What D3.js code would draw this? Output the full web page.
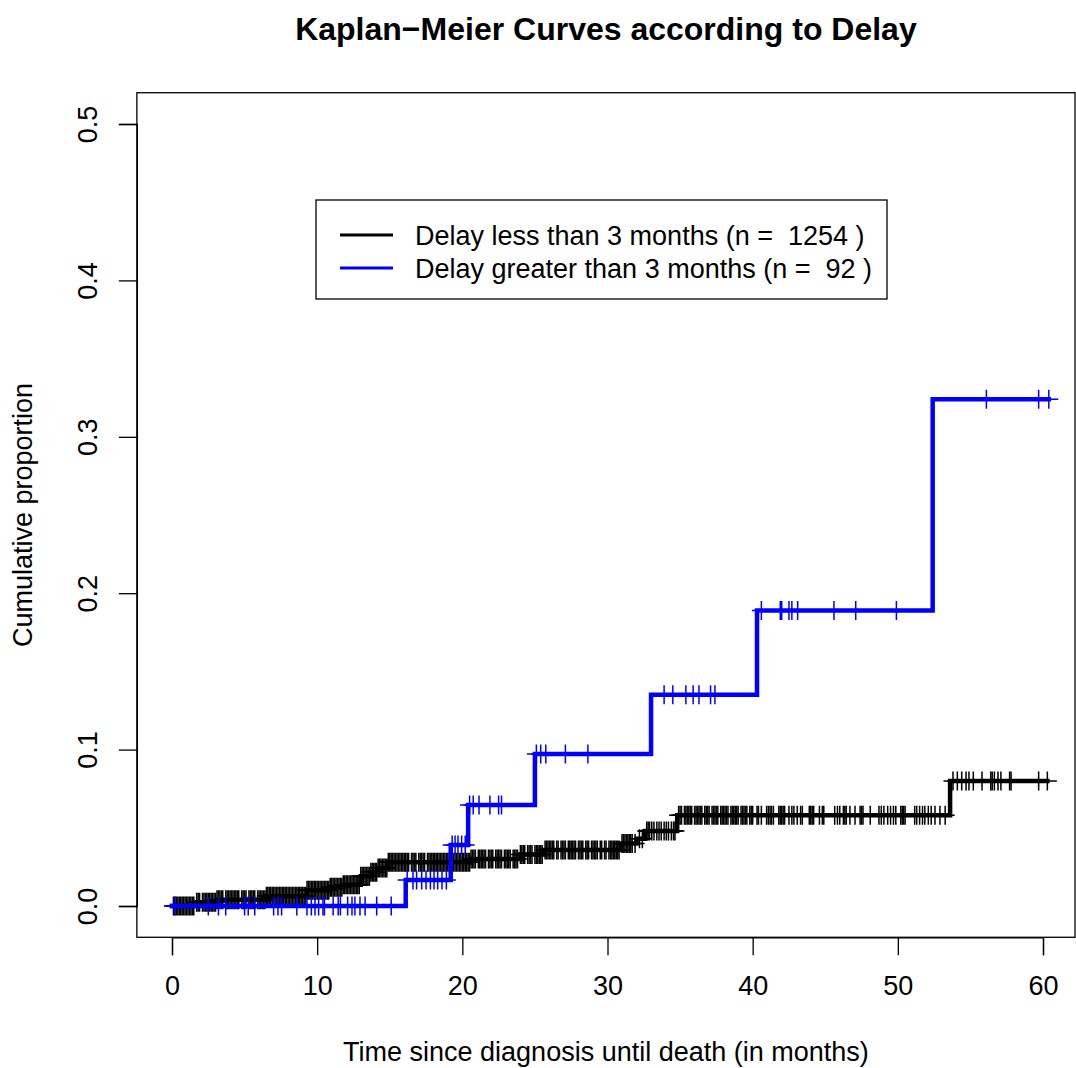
<!DOCTYPE html>
<html>
<head>
<meta charset="utf-8">
<script src="https://cdn.jsdelivr.net/npm/d3@7"></script>
<style>
  html, body { margin: 0; padding: 0; background: #fff; }
  svg { display: block; }
  text { font-family: "Liberation Sans", Arial, sans-serif; fill: #000; white-space: pre; }
</style>
</head>
<body>
<svg id="chart" width="1076" height="1068"></svg>
<script>
// ---- data -------------------------------------------------------------
const groups = ["Delay less than 3 months (n =  1254 )", "Delay greater than 3 months (n =  92 )"];
const groupColors = ["#000000", "#0000ff"];

// Event times (months) and cumulative proportion after each event
const shortDelayTimes = [1.7, 3.1, 6.5, 9.3, 10.9, 11.8, 13.0, 13.7, 14.2, 14.9, 20.6, 24.0, 25.6, 30.9, 32.0, 32.6, 34.8, 53.6];
const shortDelayCum   = [0.0024, 0.004, 0.0062, 0.0100, 0.012, 0.0136, 0.019, 0.0215, 0.0243, 0.028, 0.030, 0.033, 0.0358, 0.040, 0.043, 0.048, 0.058, 0.080];
const shortDelayEnd = 60.3;
const shortDelayCensored = (
  "0.1 0.2 0.3 0.4 0.5 0.6 0.7 0.8 0.9 1.0 1.1 1.2 1.3 1.4 1.5 " +
  "1.7 1.8 1.9 2.1 2.2 2.3 2.4 2.5 2.6 2.7 2.8 2.9 3.0 " +
  "3.1 3.2 3.3 3.4 3.5 3.7 3.8 3.9 4.0 4.1 4.2 4.3 4.4 4.5 4.6 4.8 4.9 5.0 5.1 5.3 5.4 5.5 5.6 5.7 5.9 6.0 6.1 6.2 6.3 6.4 6.5 " +
  "6.6 6.7 6.8 6.9 7.0 7.1 7.2 7.3 7.4 7.5 7.6 7.7 7.8 7.9 8.0 8.1 8.2 8.3 8.4 8.5 8.6 8.7 8.8 8.9 9.0 9.1 9.2 9.3 9.4 9.5 " +
  "9.6 9.7 9.8 9.9 10.0 10.1 10.2 10.3 10.4 10.5 10.6 10.7 10.8 10.9 11.0 11.1 11.2 11.3 11.4 11.5 11.6 11.7 11.8 11.9 12.0 " +
  "12.1 12.2 12.3 12.4 12.5 12.6 12.7 12.8 12.9 13.0 13.1 13.2 13.3 13.4 13.5 13.6 13.7 13.8 13.9 14.0 14.1 14.2 14.3 14.4 14.5 " +
  "14.6 14.7 14.8 14.9 15.0 15.1 15.2 15.3 15.4 15.5 15.6 15.7 15.8 15.9 16.0 16.1 16.2 16.3 16.5 16.6 16.7 16.8 17.0 17.1 17.2 " +
  "17.3 17.4 17.6 17.7 17.8 17.9 18.0 18.1 18.2 18.3 18.4 18.5 18.6 18.7 18.8 18.9 19.0 19.1 19.2 19.3 19.4 19.5 19.6 19.7 19.8 " +
  "19.9 20.0 20.1 20.2 20.3 20.4 20.5 20.6 " +
  "20.7 20.8 20.9 21.1 21.2 21.3 21.4 21.5 21.6 21.8 21.9 22.0 22.1 22.3 22.4 22.5 22.6 22.7 22.9 23.0 23.1 23.2 23.3 23.5 23.6 " +
  "23.7 23.8 24.0 24.1 24.2 24.3 24.5 24.6 24.7 24.8 25.0 " +
  "25.1 25.2 25.3 25.4 25.5 25.7 25.8 25.9 26.0 26.1 26.2 26.3 26.5 26.6 26.8 26.9 27.0 27.1 27.3 27.4 27.5 27.6 27.7 27.8 28.0 " +
  "28.1 28.2 28.3 28.5 28.6 28.7 28.9 29.0 29.1 29.2 29.3 29.5 29.6 29.8 29.9 30.1 30.2 30.3 30.4 30.5 30.6 30.7 30.8 " +
  "31.0 31.1 31.2 31.3 31.4 31.5 31.6 31.7 31.9 32.2 32.4 " +
  "32.7 32.8 32.9 33.05 33.2 33.4 33.55 33.7 33.9 34.05 34.2 34.4 34.55 34.65 " +
  "34.9 35.0 35.1 35.3 35.4 35.5 35.6 35.7 35.8 36.0 36.1 36.2 36.3 36.4 36.5 36.7 36.8 36.9 37.0 37.2 37.3 37.4 37.5 37.6 37.8 " +
  "37.9 38.0 38.1 38.2 38.3 38.5 38.6 38.7 38.8 38.9 39.0 39.2 39.3 39.4 39.5 39.6 39.8 39.9 40.0 40.3 40.4 40.6 " +
  "40.96 41.08 41.2 41.3 41.43 41.8 41.9 42.0 42.1 42.2 42.5 42.7 42.84 43.07 43.3 43.42 43.9 44.0 44.1 44.2 44.6 44.8 44.9 " +
  "45.65 45.84 46.0 46.25 46.35 46.45 46.7 47.05 47.4 47.5 47.6 48.1 48.7 48.86 49.04 49.3 49.5 49.7 49.86 50.2 50.3 50.4 50.5 " +
  "51.16 51.3 51.5 51.7 51.86 52.1 52.3 52.56 52.9 53.26 " +
  "53.8 54.1 54.4 54.7 54.9 55.2 55.8 56.4 56.5 56.65 56.9 57.1 57.7 57.8 59.7 60.3"
).split(" ").map(Number);

const longDelayTimes = [16.1, 19.2, 20.4, 25.0, 33.0, 40.3, 52.4];
const longDelayCum   = [0.0166, 0.039, 0.0646, 0.0972, 0.135, 0.189, 0.324];
const longDelayEnd = 60.4;
const longDelayCensored = [
  0.2, 2.5, 3.2, 3.7, 5.0, 5.25, 5.7, 7.0, 7.3, 7.55, 8.6, 9.3, 9.6, 9.85, 10.1, 10.4, 10.5, 11.1, 11.45, 11.6,
  12.1, 12.4, 12.6, 12.95, 13.3, 14.1, 15.1,
  16.2, 16.6, 16.85, 17.2, 17.5, 17.8, 18.05, 18.3, 18.6, 18.9,
  19.3, 19.5, 19.7, 19.95, 20.2,
  20.5, 20.75, 21.15, 21.9, 22.5, 22.7,
  25.1, 25.4, 25.75, 27.1, 28.65,
  33.9, 34.5, 35.4, 35.9, 36.3, 37.1, 37.4,
  40.6, 41.9, 42.0, 42.5, 42.7, 43.1, 45.6, 47.1, 49.9,
  56.1, 59.7, 60.4
];

const xTicks = [0, 10, 20, 30, 40, 50, 60];
const yTicks = [0, 0.1, 0.2, 0.3, 0.4, 0.5];

// ---- layout -----------------------------------------------------------
const W = 1076, H = 1068;
const FS = 27;              // base text size
const svg = d3.select("#chart");

const x = d3.scaleLinear().domain([0, 60]).range([172, 1043]);
const y = d3.scaleLinear().domain([0, 0.5]).range([906, 124]);

const box = { left: x(-2.42), right: W - 1, top: y(0.52), bottom: y(-0.02) };

// plot frame
svg.append("rect")
  .attr("x", box.left).attr("y", box.top)
  .attr("width", box.right - box.left).attr("height", box.bottom - box.top)
  .attr("fill", "none").attr("stroke", "#000").attr("stroke-width", 1.3);

// title
svg.append("text")
  .attr("x", (box.left + box.right) / 2).attr("y", 40)
  .attr("text-anchor", "middle")
  .style("font-weight", "bold").style("font-size", "32px")
  .text("Kaplan\u2212Meier Curves according to Delay");

// x axis
const xAxis = d3.axisBottom(x).tickValues(xTicks).tickSize(18).tickPadding(21).tickFormat(d3.format("d"));
const gx = svg.append("g").attr("transform", `translate(0,${box.bottom})`).call(xAxis);
gx.select(".domain").attr("stroke-width", 1.3);
gx.selectAll(".tick line").attr("stroke-width", 1.3);
gx.selectAll(".tick text").style("font-size", FS + "px").attr("font-family", null);

// y axis
const yAxis = d3.axisLeft(y).tickValues(yTicks).tickSize(18).tickFormat(d3.format(".1f"));
const gy = svg.append("g").attr("transform", `translate(${box.left},0)`).call(yAxis);
gy.select(".domain").attr("stroke-width", 1.3);
gy.selectAll(".tick line").attr("stroke-width", 1.3);
gy.selectAll(".tick text")
  .attr("x", null).attr("dy", null)
  .attr("text-anchor", "middle")
  .attr("transform", `translate(${97.5 - box.left},0) rotate(-90)`)
  .style("font-size", FS + "px").attr("font-family", null);

// axis titles
svg.append("text")
  .attr("x", (box.left + box.right) / 2).attr("y", 1061)
  .attr("text-anchor", "middle").style("font-size", FS + "px")
  .text("Time since diagnosis until death (in months)");
svg.append("text")
  .attr("transform", `translate(32,${(box.top + box.bottom) / 2}) rotate(-90)`)
  .attr("text-anchor", "middle").style("font-size", FS + "px")
  .text("Cumulative proportion");

// ---- curves -----------------------------------------------------------
function stepPoints(times, cum, end) {
  const pts = [[0, 0]];
  times.forEach((t, i) => pts.push([t, cum[i]]));
  pts.push([end, cum[cum.length - 1]]);
  return pts;
}
function levelAt(times, cum, t) {
  let v = 0;
  for (let i = 0; i < times.length; i++) if (times[i] <= t) v = cum[i];
  return v;
}

const line = d3.line().x(d => x(d[0])).y(d => y(d[1])).curve(d3.curveStepAfter);

const series = [
  { times: shortDelayTimes, cum: shortDelayCum, end: shortDelayEnd, cens: shortDelayCensored, color: groupColors[0] },
  { times: longDelayTimes, cum: longDelayCum, end: longDelayEnd, cens: longDelayCensored, color: groupColors[1] }
];

series.forEach(s => {
  const g = svg.append("g");
  g.append("path")
    .datum(stepPoints(s.times, s.cum, s.end))
    .attr("d", line)
    .attr("fill", "none").attr("stroke", s.color)
    .attr("stroke-width", 4.5).attr("stroke-linejoin", "miter").attr("stroke-linecap", "square");
  // censoring marks (+)
  const arm = 9.5;
  g.selectAll("path.cens").data(s.cens).join("path")
    .attr("class", "cens")
    .attr("d", t => {
      const cx = x(t), cy = y(levelAt(s.times, s.cum, t));
      return `M${cx - arm},${cy}H${cx + arm}M${cx},${cy - arm}V${cy + arm}`;
    })
    .attr("fill", "none").attr("stroke", s.color).attr("stroke-width", 1.5);
});

// ---- legend -----------------------------------------------------------
const lg = svg.append("g");
lg.append("rect").attr("x", 316).attr("y", 200).attr("width", 571).attr("height", 99)
  .attr("fill", "#fff").attr("stroke", "#000").attr("stroke-width", 1.3);
groups.forEach((label, i) => {
  const ly = 235 + i * 33;
  lg.append("line").attr("x1", 340).attr("x2", 393).attr("y1", ly).attr("y2", ly)
    .attr("stroke", groupColors[i]).attr("stroke-width", 3);
  lg.append("text").attr("x", 415).attr("y", ly + 9.5).style("font-size", FS + "px").text(label);
});
</script>
</body>
</html>
